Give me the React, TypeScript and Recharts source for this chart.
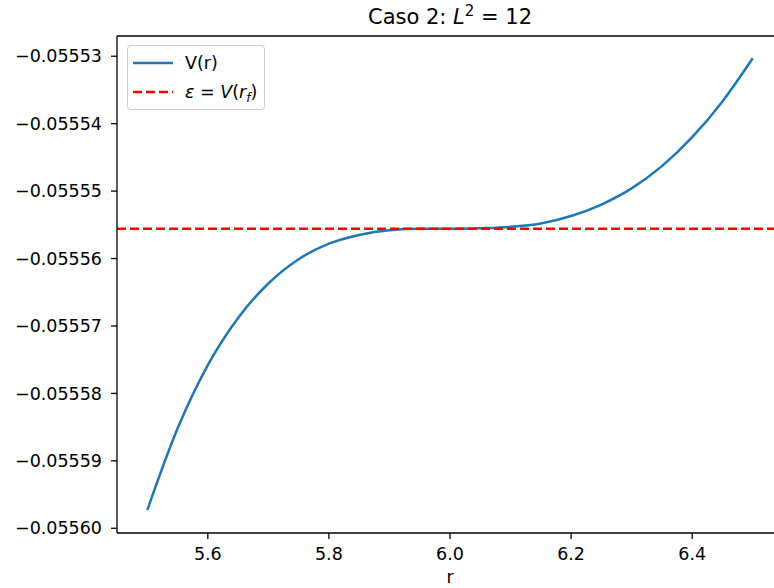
import { LineChart, Line, XAxis, YAxis, ReferenceLine } from 'recharts';

// r values (x axis)
const rValues = [
  5.5, 5.55, 5.6, 5.65, 5.7, 5.75, 5.8, 5.85, 5.9, 5.95, 6.0,
  6.05, 6.1, 6.15, 6.2, 6.25, 6.3, 6.35, 6.4, 6.45, 6.5,
];

// V(r)
const vValues = [
  -0.0555973, -0.0555852, -0.0555758, -0.0555688, -0.0555637, -0.0555601,
  -0.0555578, -0.0555565, -0.0555558, -0.0555556, -0.0555556, -0.0555555,
  -0.0555553, -0.0555548, -0.0555537, -0.055552, -0.0555496, -0.0555463,
  -0.055542, -0.0555367, -0.0555303,
];

// energy level epsilon = V(r_f)
const epsilon = -0.0555556;

const xTicks = [5.6, 5.8, 6.0, 6.2, 6.4];
const yTicks = [-0.0556, -0.05559, -0.05558, -0.05557, -0.05556, -0.05555, -0.05554, -0.05553];

const xDomain = [5.45, 6.55];
const yDomain = [-0.0556007, -0.055527];

const data = rValues.map((r, i) => ({ r, v: vValues[i] }));

const FONT = '"DejaVu Sans", sans-serif';
const BLUE = '#1f77b4';
const RED = '#ff0000';

const fmtY = (v: number) => '\u2212' + Math.abs(v).toFixed(5);

const App = () => {
  return (
    <div style={{ width: 774, height: 588, overflow: 'hidden', position: 'relative', background: '#fff', fontFamily: FONT }}>
      <style>{'html,body{margin:0;padding:0;overflow:hidden;}'}</style>
      {/* Title */}
      <div
        style={{
          position: 'absolute', top: 7, left: 0, width: 900, textAlign: 'center',
          fontSize: 21, lineHeight: '21px', color: '#000', whiteSpace: 'nowrap',
        }}
      >
        Caso 2: <i>L</i>
        <span style={{ fontSize: 15, position: 'relative', top: -8 }}>2</span> = 12
      </div>

      <LineChart width={800} height={588} data={data} margin={{ top: 36, right: 17, bottom: 0, left: 0 }}>
        <XAxis
          dataKey="r"
          type="number"
          domain={xDomain}
          ticks={xTicks}
          tickFormatter={(v: number) => v.toFixed(1)}
          height={55}
          tickSize={6}
          tickMargin={9}
          stroke="#000"
          strokeWidth={1.3}
          tick={{ fill: '#000', fontSize: 17.5, fontFamily: FONT }}
          label={{ value: 'r', position: 'insideBottom', offset: 5, fill: '#000', fontSize: 17.5, fontFamily: FONT }}
          allowDataOverflow
        />
        <YAxis
          type="number"
          domain={yDomain}
          ticks={yTicks}
          tickFormatter={fmtY}
          width={117}
          tickSize={6}
          tickMargin={9}
          stroke="#000"
          strokeWidth={1.3}
          tick={{ fill: '#000', fontSize: 17.5, fontFamily: FONT }}
          allowDataOverflow
        />
        {/* top spine */}
        <ReferenceLine y={yDomain[1]} stroke="#000" strokeWidth={1.3} />
        <Line
          type="monotone"
          dataKey="v"
          stroke={BLUE}
          strokeWidth={2.5}
          dot={false}
          isAnimationActive={false}
        />
        <ReferenceLine y={epsilon} stroke={RED} strokeWidth={2.5} strokeDasharray="9 4" />
      </LineChart>

      {/* Legend */}
      <div
        style={{
          position: 'absolute', left: 127, top: 45, width: 138, height: 65, boxSizing: 'border-box',
          border: '1px solid #d0d0d0', borderRadius: 4, background: 'rgba(255,255,255,0.8)',
          fontSize: 17.5, color: '#000',
        }}
      >
        <svg width={50} height={65} style={{ position: 'absolute', left: 0, top: 0 }}>
          <line x1={5} x2={45} y1={17} y2={17} stroke={BLUE} strokeWidth={2.5} />
          <line x1={5} x2={45} y1={46} y2={46} stroke={RED} strokeWidth={2.5} strokeDasharray="9 4" />
        </svg>
        <div style={{ position: 'absolute', left: 57, top: 6, lineHeight: '22px', whiteSpace: 'nowrap' }}>V(r)</div>
        <div style={{ position: 'absolute', left: 57, top: 35, lineHeight: '22px', whiteSpace: 'nowrap' }}>
          <i>ε</i> = <i>V</i>(<i>r</i>
          <i style={{ fontSize: 12, position: 'relative', top: 4 }}>f</i>)
        </div>
      </div>
    </div>
  );
};

export default App;
